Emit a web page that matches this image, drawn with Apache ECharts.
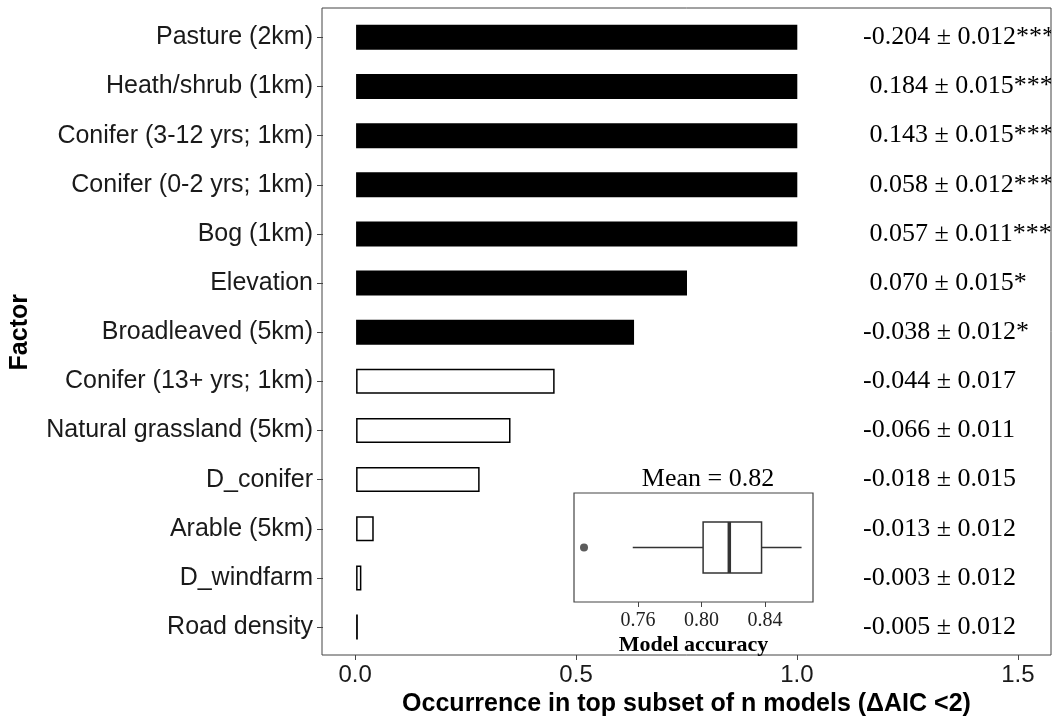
<!DOCTYPE html>
<html>
<head>
<meta charset="utf-8">
<script src="https://cdn.jsdelivr.net/npm/echarts@6/dist/echarts.min.js"></script>
<style>
html,body{margin:0;padding:0;background:#fff;}
#chart{width:1056px;height:722px;}
</style>
</head>
<body>
<div id="chart"></div>
<script>
// ---- data ----
const factors = [
  'Pasture (2km)', 'Heath/shrub (1km)', 'Conifer (3-12 yrs; 1km)', 'Conifer (0-2 yrs; 1km)',
  'Bog (1km)', 'Elevation', 'Broadleaved (5km)', 'Conifer (13+ yrs; 1km)',
  'Natural grassland (5km)', 'D_conifer', 'Arable (5km)', 'D_windfarm', 'Road density'
];
const occurrence = [1.0, 1.0, 1.0, 1.0, 1.0, 0.75, 0.63, 0.45, 0.35, 0.28, 0.04, 0.012, 0.004];
const significant = [true, true, true, true, true, true, true, false, false, false, false, false, false];
const estimates = [
  '-0.204 ± 0.012***', ' 0.184 ± 0.015***', ' 0.143 ± 0.015***', ' 0.058 ± 0.012***',
  ' 0.057 ± 0.011***', ' 0.070 ± 0.015*', '-0.038 ± 0.012*', '-0.044 ± 0.017',
  '-0.066 ± 0.011', '-0.018 ± 0.015', '-0.013 ± 0.012', '-0.003 ± 0.012', '-0.005 ± 0.012'
];
const xTicks = [0, 0.5, 1.0, 1.5];
// inset boxplot of model accuracy: [min, Q1, median, Q3, max]
const accuracyBox = [0.7567, 0.8010, 0.8175, 0.8378, 0.8630];
const accuracyOutliers = [0.726];
const accuracyTicks = [0.76, 0.80, 0.84];
const accuracyMean = 0.82;

// ---- layout constants ----
const X_MIN = -0.075, X_MAX = 1.575;
const ANNOT_X = 1.149;
const BORDER = '#444';
const SANS = '"Liberation Sans", Arial, sans-serif';
const SERIF = '"Liberation Serif", "Times New Roman", serif';

const chart = echarts.init(document.getElementById('chart'), null, {renderer: 'canvas'});

const barData = occurrence.map((v, i) => ({
  value: v,
  itemStyle: {color: significant[i] ? '#000' : '#fff', borderColor: '#000', borderWidth: 1.5}
}));

function renderBox(params, api) {
  const y = api.value(5);
  const pMin = api.coord([api.value(0), y]);
  const pQ1 = api.coord([api.value(1), y]);
  const pMed = api.coord([api.value(2), y]);
  const pQ3 = api.coord([api.value(3), y]);
  const pMax = api.coord([api.value(4), y]);
  const h = 51;
  const cy = pMed[1];
  const stroke = {stroke: '#333', lineWidth: 1.5};
  return {
    type: 'group',
    children: [
      {type: 'line', shape: {x1: pMin[0], y1: cy, x2: pQ1[0], y2: cy}, style: stroke},
      {type: 'line', shape: {x1: pQ3[0], y1: cy, x2: pMax[0], y2: cy}, style: stroke},
      {type: 'rect', shape: {x: pQ1[0], y: cy - h / 2, width: pQ3[0] - pQ1[0], height: h},
        style: {fill: '#fff', stroke: '#333', lineWidth: 1.5}},
      {type: 'line', shape: {x1: pMed[0], y1: cy - h / 2, x2: pMed[0], y2: cy + h / 2},
        style: {stroke: '#333', lineWidth: 3.5}}
    ]
  };
}

const option = {
  animation: false,
  backgroundColor: '#fff',
  grid: [
    {left: 322, top: 8, width: 729, height: 647, show: true, borderColor: BORDER, borderWidth: 1, backgroundColor: 'transparent'},
    {left: 322, top: 12.8, width: 729, height: 638.8, show: false},
    {left: 574, top: 493, width: 239, height: 109, show: true, borderColor: BORDER, borderWidth: 1.2, backgroundColor: '#fff', z: 5}
  ],
  xAxis: [
    {
      gridIndex: 0, type: 'value', min: X_MIN, max: X_MAX,
      axisLine: {show: false, onZero: false},
      splitLine: {show: false},
      axisTick: {show: true, length: 5, lineStyle: {color: BORDER, width: 1}, customValues: xTicks},
      axisLabel: {show: true, margin: 8, fontFamily: SANS, fontSize: 24, color: '#1a1a1a',
        customValues: xTicks, formatter: v => v.toFixed(1)},
      name: 'Occurrence in top subset of n models (ΔAIC <2)',
      nameLocation: 'middle', nameGap: 36,
      nameTextStyle: {fontFamily: SANS, fontSize: 25, fontWeight: 'bold', color: '#000'}
    },
    {
      gridIndex: 1, type: 'value', min: X_MIN, max: X_MAX, show: false
    },
    {
      gridIndex: 2, type: 'value', min: 0.7197, max: 0.8702,
      axisLine: {show: false, onZero: false}, splitLine: {show: false},
      axisTick: {show: true, length: 5, lineStyle: {color: BORDER}, customValues: accuracyTicks},
      axisLabel: {show: true, margin: 9, fontFamily: SERIF, fontSize: 20, color: '#222',
        customValues: accuracyTicks, formatter: v => v.toFixed(2)},
      name: 'Model accuracy', nameLocation: 'middle', nameGap: 32,
      nameTextStyle: {fontFamily: SERIF, fontSize: 22, fontWeight: 'bold', color: '#000'},
      z: 6
    }
  ],
  yAxis: [
    {gridIndex: 0, type: 'value', show: false, min: 0, max: 1},
    {
      gridIndex: 1, type: 'category', data: factors, inverse: true,
      axisLine: {show: false, onZero: false},
      axisTick: {show: true, alignWithLabel: true, length: 6, lineStyle: {color: BORDER}},
      axisLabel: {fontFamily: SANS, fontSize: 25, color: '#1a1a1a', margin: 10},
      name: 'Factor', nameLocation: 'middle', nameRotate: 90, nameGap: 290,
      nameTextStyle: {fontFamily: SANS, fontSize: 25, fontWeight: 'bold', color: '#000'}
    },
    {gridIndex: 2, type: 'value', min: 0, max: 1, show: false}
  ],
  series: [
    {
      type: 'bar', xAxisIndex: 1, yAxisIndex: 1, data: barData, barWidth: 25, z: 2
    },
    {
      type: 'custom', xAxisIndex: 1, yAxisIndex: 1, clip: true, z: 3,
      data: estimates.map((t, i) => [ANNOT_X, i]),
      renderItem: function (params, api) {
        const p = api.coord([api.value(0), api.value(1)]);
        return {
          type: 'text', x: p[0], y: p[1],
          style: {text: estimates[params.dataIndex], fontFamily: SERIF, fontSize: 26,
            fill: '#000', align: 'left', verticalAlign: 'middle'}
        };
      }
    },
    {
      type: 'custom', xAxisIndex: 2, yAxisIndex: 2, z: 6,
      data: [accuracyBox.concat([0.5])],
      renderItem: renderBox
    },
    {
      type: 'scatter', xAxisIndex: 2, yAxisIndex: 2, z: 7,
      data: accuracyOutliers.map(v => [v, 0.5]), symbolSize: 8,
      itemStyle: {color: '#333'}
    }
  ],
  graphic: [
    {
      type: 'text', x: 708, y: 479, z: 10,
      style: {text: 'Mean = ' + accuracyMean.toFixed(2), fontFamily: SERIF, fontSize: 26,
        fill: '#000', align: 'center', verticalAlign: 'middle'}
    }
  ]
};
chart.setOption(option);
</script>
</body>
</html>
